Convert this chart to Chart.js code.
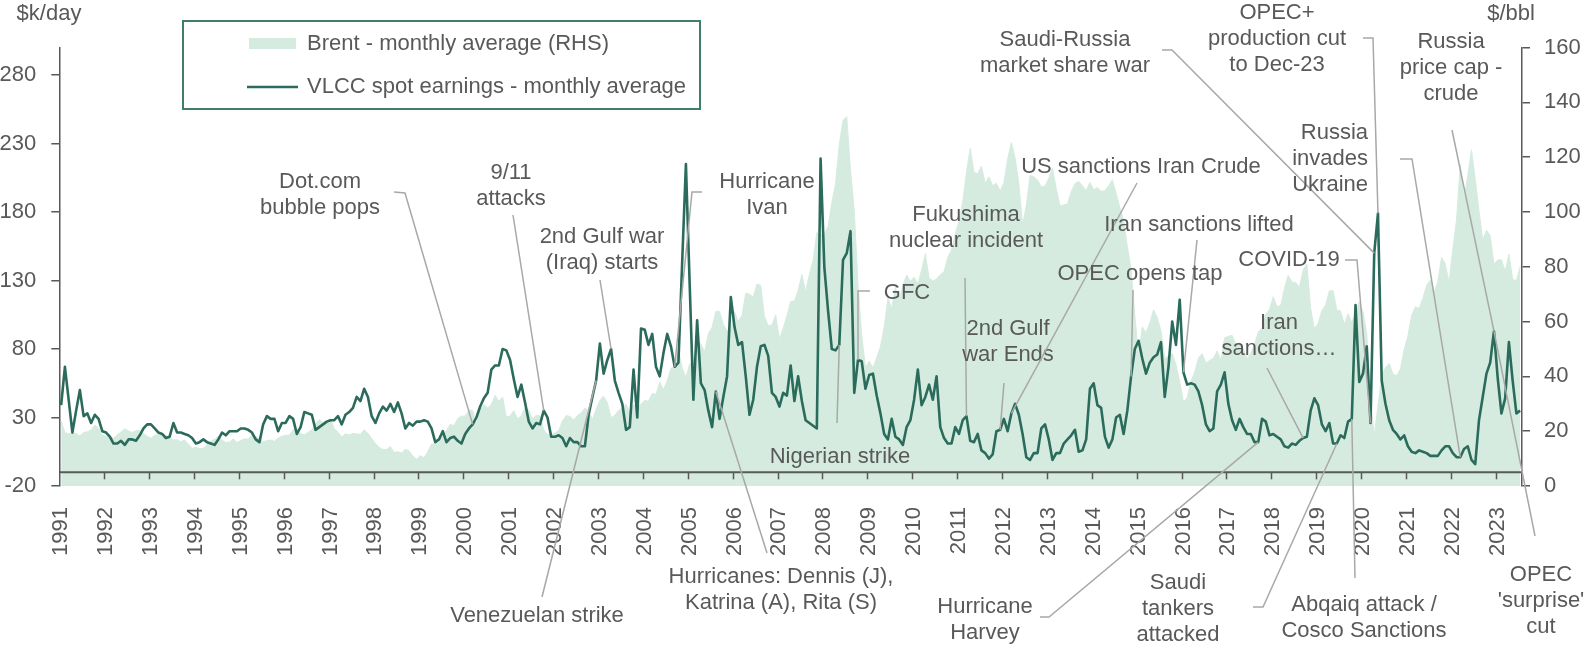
<!DOCTYPE html>
<html>
<head>
<meta charset="utf-8">
<script src="https://cdn.jsdelivr.net/npm/chart.js@4.4.0/dist/chart.umd.min.js"></script>
<style>
  html, body { margin: 0; padding: 0; background: #fff; }
  #wrap { width: 1586px; height: 650px; }
</style>
</head>
<body>
<div id="wrap"><canvas id="chart" width="1586" height="650"></canvas></div>
<script>
// monthly categories, Jan 1991 - Jul 2023
const firstYear = 1991;
const lastYear = 2023;
const lastMonth = 7;
const months = [];
for (let y = firstYear; y <= lastYear; y++) {
  for (let m = 1; m <= 12; m++) {
    if (y === lastYear && m > lastMonth) break;
    months.push(y + '-' + String(m).padStart(2, '0'));
  }
}

// VLCC spot earnings, $k/day (left axis)
const vlccEarnings = [
  39, 67, 43, 19, 35, 50, 31, 33, 26, 32, 29, 20,      // 1991
  19, 16, 11, 11, 13, 10, 14, 14, 13, 17, 22, 25,      // 1992
  25, 22, 19, 18, 15, 16, 26, 19, 19, 18, 17, 15,      // 1993
  11, 12, 14, 12, 11, 10, 14, 19, 17, 20, 20, 20,      // 1994
  22, 22, 21, 19, 14, 12, 25, 31, 29, 29, 20, 26,      // 1995
  26, 31, 29, 18, 23, 34, 33, 32, 21, 23, 25, 27,      // 1996
  28, 28, 31, 25, 32, 34, 37, 45, 42, 51, 45, 31,      // 1997
  26, 33, 38, 35, 40, 34, 41, 33, 22, 26, 24, 27,      // 1998
  27, 28, 27, 22, 12, 14, 20, 12, 15, 16, 13, 11,      // 1999
  18, 22, 25, 30, 38, 44, 48, 65, 68, 68, 80, 79,      // 2000
  72, 58, 45, 54, 41, 27, 22, 26, 25, 35, 30, 16,      // 2001
  16, 17, 15, 9, 15, 12, 12, 9, 9, 32, 45, 57,         // 2002
  84, 62, 72, 80, 57, 48, 40, 21, 23, 65, 30, 95,      // 2003
  94, 83, 91, 67, 60, 77, 91, 82, 67, 70, 143, 215,    // 2004
  128, 43, 101, 55, 50, 35, 23, 49, 29, 45, 60, 118,   // 2005
  96, 83, 85, 60, 32, 43, 67, 82, 83, 75, 48, 45,      // 2006
  38, 48, 46, 68, 42, 60, 42, 28, 26, 24, 22, 219,     // 2007
  140, 108, 80, 79, 83, 145, 150, 166, 48, 72, 71, 51, // 2008
  61, 62, 46, 33, 18, 14, 29, 16, 14, 10, 23, 28,      // 2009
  43, 65, 39, 45, 54, 43, 60, 23, 15, 11, 11, 23,      // 2010
  18, 28, 31, 13, 12, 18, 6, 4, 0, 3, 20, 21,          // 2011
  29, 20, 33, 40, 32, 18, 1, -1, 4, 4, 22, 25,         // 2012
  14, -1, 4, 4, 11, 14, 17, 21, 5, 6, 14, 51,          // 2013
  55, 39, 37, 16, 8, 14, 30, 32, 18, 35, 60, 80,       // 2014
  86, 73, 62, 70, 74, 76, 85, 45, 67, 100, 83, 116,    // 2015
  63, 54, 55, 54, 49, 39, 25, 20, 22, 49, 54, 63,      // 2016
  40, 28, 21, 29, 23, 18, 18, 12, 12, 29, 27, 17,      // 2017
  18, 16, 14, 9, 8, 11, 10, 13, 15, 16, 35, 44,        // 2018
  39, 25, 20, 26, 11, 11, 17, 15, 27, 29, 112, 56,     // 2019
  62, 82, 26, 150, 179, 57, 40, 28, 21, 18, 14, 17,    // 2020
  9, 5, 4, 6, 5, 4, 2, 2, 2, 6, 9, 9,                  // 2021
  4, 1, 1, 7, 9, -1, -4, 28, 45, 62, 70, 93,           // 2022
  59, 33, 44, 85, 57, 33, 35                           // 2023
];

// Brent monthly average, $/bbl (right axis)
const brentPrice = [
  23.6, 19.5, 19.1, 19.2, 19.2, 18.3, 19.5, 19.8, 20.5, 22.2, 21.2, 18.5,
  18.2, 18.0, 17.5, 18.7, 19.7, 20.9, 20.1, 19.6, 20.2, 20.2, 19.1, 18.2,
  17.4, 18.5, 18.8, 18.7, 18.5, 17.6, 16.8, 16.9, 16.2, 16.8, 15.2, 13.8,
  14.1, 13.6, 13.8, 15.0, 16.3, 17.1, 18.0, 16.8, 15.9, 16.1, 17.2, 15.9,
  16.6, 17.2, 17.1, 18.6, 18.2, 17.2, 16.1, 16.6, 16.8, 16.3, 17.5, 18.2,
  18.5, 18.6, 20.5, 20.7, 19.2, 18.7, 19.6, 20.4, 22.8, 24.2, 23.1, 23.8,
  24.5, 20.9, 19.7, 17.9, 19.1, 18.6, 19.2, 19.0, 18.9, 20.5, 19.2, 17.4,
  15.5, 14.1, 13.3, 13.3, 14.4, 12.3, 12.5, 12.0, 13.4, 12.8, 11.0, 9.8,
  11.1, 10.3, 12.5, 15.3, 15.3, 15.8, 19.0, 20.3, 22.5, 22.0, 24.6, 25.5,
  25.5, 27.8, 27.5, 22.7, 27.4, 29.7, 28.5, 29.8, 33.1, 30.9, 32.5, 25.1,
  25.6, 27.5, 24.5, 25.7, 28.4, 27.7, 24.5, 25.8, 25.6, 20.5, 18.8, 18.7,
  19.4, 20.3, 23.7, 25.7, 25.4, 24.1, 25.7, 26.7, 28.4, 27.5, 24.3, 28.0,
  31.2, 32.8, 30.4, 25.0, 25.8, 27.6, 28.4, 29.8, 27.1, 29.6, 28.8, 29.8,
  31.3, 30.9, 33.8, 33.4, 37.9, 35.2, 38.4, 43.0, 43.4, 49.8, 43.1, 39.6,
  44.5, 45.5, 53.1, 51.9, 49.0, 55.6, 57.9, 63.8, 63.7, 59.0, 56.6, 57.1,
  63.6, 60.0, 62.3, 70.4, 70.0, 68.9, 73.7, 73.2, 61.9, 58.5, 58.8, 62.4,
  53.7, 57.6, 62.1, 67.4, 67.5, 71.3, 77.2, 70.8, 77.2, 82.4, 92.5, 91.5,
  91.9, 94.8, 103.3, 110.4, 124.6, 133.5, 134.8, 115.2, 100.8, 73.6, 55.0, 43.3,
  45.6, 43.1, 46.8, 50.9, 57.9, 68.6, 64.9, 72.5, 67.7, 73.2, 77.0, 74.7,
  76.2, 73.8, 78.8, 84.8, 75.9, 74.8, 75.6, 77.1, 78.2, 83.5, 86.1, 92.0,
  96.5, 103.7, 114.6, 123.3, 114.5, 113.9, 116.7, 110.4, 112.8, 109.6, 110.5, 107.7,
  110.7, 119.3, 125.4, 119.8, 110.3, 95.2, 102.6, 113.4, 112.9, 111.7, 109.1, 109.5,
  112.3, 116.1, 108.5, 102.3, 102.6, 102.9, 107.4, 110.3, 111.2, 109.5, 107.8, 110.8,
  108.1, 108.9, 107.5, 107.8, 109.5, 111.8, 106.8, 101.6, 97.1, 87.4, 79.4, 62.3,
  47.8, 58.1, 55.9, 59.5, 64.3, 61.5, 56.6, 46.5, 47.6, 48.4, 44.3, 38.0,
  30.7, 32.2, 38.2, 41.6, 46.7, 48.3, 44.9, 45.8, 46.6, 49.3, 45.9, 54.1,
  54.6, 55.0, 51.6, 52.3, 50.3, 46.4, 48.5, 51.7, 56.2, 57.6, 62.7, 64.4,
  69.1, 65.4, 66.0, 72.1, 76.9, 74.4, 74.3, 72.5, 78.9, 81.0, 64.8, 57.4,
  59.4, 64.0, 66.1, 71.2, 71.3, 64.2, 63.9, 59.0, 62.8, 59.7, 63.2, 67.3,
  63.7, 55.7, 32.0, 18.4, 29.4, 40.3, 43.2, 44.7, 40.9, 40.2, 42.7, 49.9,
  54.8, 62.3, 65.4, 64.8, 68.5, 73.2, 75.2, 70.8, 74.5, 83.5, 81.1, 74.2,
  86.5, 97.1, 117.3, 104.6, 113.3, 122.7, 111.9, 100.5, 89.8, 93.3, 91.4, 80.9,
  82.5, 82.6, 78.4, 84.6, 75.5, 74.9, 80.1
];

const leftTicks = [-20, 30, 80, 130, 180, 230, 280];
const rightTicks = [0, 20, 40, 60, 80, 100, 120, 140, 160];

// event labels: text position in px, leader bends in px, leader ends on the VLCC point at month index "at"
const notes = [
  { text: ['Dot.com', 'bubble pops'], x: 320, y: 182, via: [[394, 192], [405, 193]], at: 110 },
  { text: ['9/11', 'attacks'], x: 511, y: 173, via: [[513, 215]], at: 129 },
  { text: ['2nd Gulf war', '(Iraq) starts'], x: 602, y: 237, via: [[600, 280]], at: 147 },
  { text: ['Hurricane', 'Ivan'], x: 767, y: 182, via: [[702, 192], [692, 192]], at: 164 },
  { text: ['Hurricanes: Dennis (J),', 'Katrina (A), Rita (S)'], x: 781, y: 577, via: [[767, 553]], at: 175 },
  { text: ['Venezuelan strike'], x: 537, y: 616, via: [[542, 597]], at: 143 },
  { text: ['Nigerian strike'], x: 840, y: 457, via: [[837, 423]], at: 208 },
  { text: ['GFC'], x: 907, y: 293, via: [[870, 291], [858, 291]], at: 213 },
  { text: ['Fukushima', 'nuclear incident'], x: 966, y: 215, via: [[965, 278]], at: 242 },
  { text: ['2nd Gulf', 'war Ends'], x: 1008, y: 329, via: [[1004, 383]], at: 251 },
  { text: ['US sanctions Iran Crude'], x: 1141, y: 167, via: [[1137, 183]], at: 254 },
  { text: ['Iran sanctions lifted'], x: 1199, y: 225, via: [[1197, 240]], at: 300 },
  { text: ['OPEC opens tap'], x: 1140, y: 274, via: [[1133, 290]], at: 286 },
  { text: ['COVID-19'], x: 1289, y: 260, via: [[1345, 260], [1357, 260]], at: 350 },
  { text: ['Iran', 'sanctions\u2026'], x: 1279, y: 323, via: [[1267, 368]], at: 332 },
  { text: ['Saudi-Russia', 'market share war'], x: 1065, y: 40, via: [[1162, 50], [1172, 50]], at: 351 },
  { text: ['OPEC+', 'production cut', 'to Dec-23'], x: 1277, y: 13, via: [[1363, 38], [1373, 38]], at: 352 },
  { text: ['Russia', 'invades', 'Ukraine'], x: 1368, y: 133, align: 'right', via: [[1400, 159], [1412, 159]], at: 374 },
  { text: ['Russia', 'price cap -', 'crude'], x: 1451, y: 42, via: [[1452, 130]], at: 383 },
  { text: ['OPEC', "'surprise'", 'cut'], x: 1541, y: 575, via: [[1535, 536]], at: 383 },
  { text: ['Hurricane', 'Harvey'], x: 985, y: 607, via: [[1040, 617], [1049, 617]], at: 320 },
  { text: ['Saudi', 'tankers', 'attacked'], x: 1178, y: 583, via: [[1253, 607], [1263, 607]], at: 341 },
  { text: ['Abqaiq attack /', 'Cosco Sanctions'], x: 1364, y: 605, via: [[1355, 578]], at: 345 }
];

const lineColor = '#2b6b5b';
const brentColor = '#d5ebe0';
const textColor = '#595959';
const axisColor = '#595959';
const leaderColor = '#a8a8a8';
const font = '"Liberation Sans", Arial, sans-serif';

const overlay = {
  id: 'overlay',
  afterDatasetsDraw(chart) {
    // the category axis line sits a little above the plot bottom, with year ticks hanging below it
    const ctx = chart.ctx;
    const xs = chart.scales.x, ys = chart.scales.y;
    const area = chart.chartArea;
    const yAxis = ys.getPixelForValue(-10);
    const half = (xs.getPixelForValue(1) - xs.getPixelForValue(0)) / 2;
    ctx.save();
    ctx.strokeStyle = axisColor;
    ctx.lineWidth = 2;
    ctx.beginPath();
    ctx.moveTo(area.left, yAxis);
    ctx.lineTo(area.right, yAxis);
    ctx.stroke();
    ctx.lineWidth = 1.5;
    months.forEach((m, i) => {
      if (!m.endsWith('-01') || i === 0) return;
      const px = Math.round(xs.getPixelForValue(i) - half) + 0.5;
      ctx.beginPath();
      ctx.moveTo(px, yAxis);
      ctx.lineTo(px, yAxis + 7);
      ctx.stroke();
    });
    ctx.restore();
  },
  afterDraw(chart) {
    const ctx = chart.ctx;
    const xs = chart.scales.x, ys = chart.scales.y;
    ctx.save();
    ctx.font = '22px ' + font;
    ctx.fillStyle = textColor;
    ctx.textBaseline = 'middle';
    ctx.textAlign = 'center';
    ctx.fillText('$k/day', 49, 14);
    ctx.fillText('$/bbl', 1511, 14);

    // legend
    const ds = chart.data.datasets;
    ctx.fillStyle = '#fff';
    ctx.fillRect(183, 21, 517, 88);
    ctx.strokeStyle = '#3f7d6d';
    ctx.lineWidth = 2;
    ctx.strokeRect(183, 21, 517, 88);
    ctx.fillStyle = brentColor;
    ctx.fillRect(249, 38, 47, 11);
    ctx.strokeStyle = lineColor;
    ctx.lineWidth = 2.6;
    ctx.beginPath();
    ctx.moveTo(247, 87);
    ctx.lineTo(298, 87);
    ctx.stroke();
    ctx.fillStyle = textColor;
    ctx.textAlign = 'left';
    ctx.fillText(ds[1].label, 307, 44);
    ctx.fillText(ds[0].label, 307, 87);

    // event labels with leader lines
    ctx.strokeStyle = leaderColor;
    ctx.lineWidth = 1.5;
    notes.forEach(n => {
      ctx.beginPath();
      ctx.moveTo(n.via[0][0], n.via[0][1]);
      n.via.slice(1).forEach(p => ctx.lineTo(p[0], p[1]));
      ctx.lineTo(xs.getPixelForValue(n.at), ys.getPixelForValue(vlccEarnings[n.at]));
      ctx.stroke();
      ctx.textAlign = n.align || 'center';
      n.text.forEach((t, k) => ctx.fillText(t, n.x, n.y + k * 26));
    });
    ctx.restore();
  }
};

new Chart(document.getElementById('chart'), {
  type: 'line',
  data: {
    labels: months,
    datasets: [
      {
        label: 'VLCC spot earnings - monthly average',
        data: vlccEarnings,
        yAxisID: 'y',
        borderColor: lineColor,
        borderWidth: 2.6,
        borderJoinStyle: 'round',
        pointRadius: 0,
        tension: 0,
        fill: false,
        order: 0
      },
      {
        label: 'Brent - monthly average (RHS)',
        data: brentPrice,
        yAxisID: 'yR',
        borderColor: brentColor,
        backgroundColor: brentColor,
        borderWidth: 1,
        pointRadius: 0,
        tension: 0,
        fill: 'start',
        order: 1
      }
    ]
  },
  options: {
    responsive: false,
    animation: false,
    devicePixelRatio: 1,
    layout: { padding: { top: 47.6, left: 0, right: 0, bottom: 0 } },
    plugins: { legend: { display: false }, tooltip: { enabled: false } },
    scales: {
      x: {
        type: 'category',
        offset: true,
        grid: { display: false, drawTicks: false },
        border: { display: false },
        ticks: {
          autoSkip: false,
          minRotation: 90,
          maxRotation: 90,
          padding: 21,
          color: textColor,
          font: { family: '"Liberation Sans Narrow", "Liberation Sans", Arial, sans-serif', size: 22 },
          callback: (v, i) => months[i].endsWith('-01') ? months[i].slice(0, 4) : ''
        },
        afterFit: s => { s.height = 164; }
      },
      y: {
        position: 'left',
        min: -20,
        max: 300,
        afterBuildTicks: s => { s.ticks = leftTicks.map(v => ({ value: v })); },
        ticks: { color: textColor, padding: 15, font: { family: font, size: 22 } },
        grid: { drawOnChartArea: false, tickLength: 8, color: axisColor, lineWidth: 1.5 },
        border: { color: axisColor, width: 1.5 },
        afterFit: s => { s.width = 59.3; }
      },
      yR: {
        position: 'right',
        min: 0,
        max: 160,
        afterBuildTicks: s => { s.ticks = rightTicks.map(v => ({ value: v })); },
        ticks: { color: textColor, padding: 14, font: { family: font, size: 22 } },
        grid: { drawOnChartArea: false, tickLength: 8, color: axisColor, lineWidth: 1.5 },
        border: { color: axisColor, width: 1.5 },
        afterFit: s => { s.width = 64; }
      }
    }
  },
  plugins: [overlay]
});
</script>
</body>
</html>
